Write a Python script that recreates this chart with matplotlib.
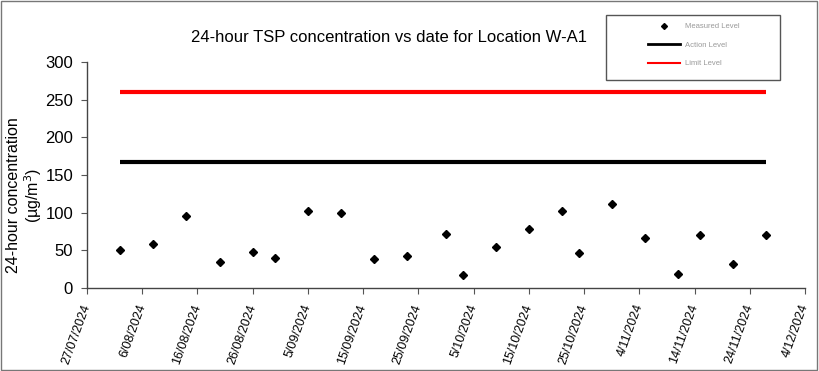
import datetime as dt

import matplotlib

matplotlib.use("Agg")
import matplotlib.dates as mdates
import matplotlib.pyplot as plt
from matplotlib.lines import Line2D
from matplotlib.patches import Rectangle
from matplotlib.ticker import FuncFormatter

plt.rcParams["font.family"] = ["Liberation Sans", "DejaVu Sans"]

# ---------------------------------------------------------------------------
# Data
# ---------------------------------------------------------------------------

SAMPLE_DATES = [
    "2024-08-02", "2024-08-08", "2024-08-14", "2024-08-20", "2024-08-26",
    "2024-08-30", "2024-09-05", "2024-09-11", "2024-09-17", "2024-09-23",
    "2024-09-30", "2024-10-03", "2024-10-09", "2024-10-15", "2024-10-21",
    "2024-10-24", "2024-10-30", "2024-11-05", "2024-11-11", "2024-11-15",
    "2024-11-21", "2024-11-27",
]
MEASURED = [51, 58, 95, 35, 48, 40, 102, 100, 39, 42, 72,
            17, 54, 78, 102, 47, 111, 67, 19, 70, 32, 70]
ACTION_LEVEL = 167
LIMIT_LEVEL = 260

X_START = "2024-07-27"
X_END = "2024-12-04"
TICK_STEP_DAYS = 10

TITLE = "24-hour TSP concentration vs date for Location W-A1"
YLABEL = "24-hour concentration\n(µg/m$^3$)"
LEGEND_LABELS = ["Measured Level", "Action Level", "Limit Level"]


def to_date(s):
    return dt.datetime.strptime(s, "%Y-%m-%d")


def fmt_date(v, _pos):
    t = mdates.num2date(v)
    return f"{t.day}/{t.month:02d}/{t.year}"


dates = [to_date(s) for s in SAMPLE_DATES]
x0, x1 = to_date(X_START), to_date(X_END)

W, H = 819, 371
fig = plt.figure(figsize=(W / 100, H / 100), dpi=100)
ax = fig.add_axes([87 / W, 1 - 288 / H, (805 - 87) / W, (288 - 62) / H])

ax.plot([dates[0], dates[-1]], [LIMIT_LEVEL] * 2, color="#ff0000", lw=3,
        solid_capstyle="butt", zorder=2)
ax.plot([dates[0], dates[-1]], [ACTION_LEVEL] * 2, color="black", lw=3,
        solid_capstyle="butt", zorder=2)
ax.plot(dates, MEASURED, ls="none", marker="D", ms=4.5, color="black", zorder=3)

ax.set_xlim(x0, x1)
ax.set_ylim(0, 300)
ax.set_yticks(range(0, 301, 50))

ticks = []
d = x0
while d <= x1:
    ticks.append(d)
    d += dt.timedelta(days=TICK_STEP_DAYS)
ax.set_xticks(ticks)
ax.xaxis.set_major_formatter(FuncFormatter(fmt_date))
for lab in ax.get_xticklabels():
    lab.set_rotation(70)
    lab.set_ha("right")
    lab.set_va("center")
    lab.set_rotation_mode("anchor")
    lab.set_fontsize(9)

ax.tick_params(axis="y", labelsize=12, length=4, color="#555555", pad=6)
ax.tick_params(axis="x", length=4, color="#555555", pad=8)
for side in ("top", "right"):
    ax.spines[side].set_visible(False)
for side in ("left", "bottom"):
    ax.spines[side].set_color("#444444")
    ax.spines[side].set_linewidth(1)

fig.text(389 / W, 1 - 37 / H, TITLE, ha="center", va="center", fontsize=12)
fig.text(25 / W, 1 - 195 / H, YLABEL, ha="center", va="center",
         rotation=90, fontsize=11.5, multialignment="center", linespacing=1.1)

# legend box sits above the plot, entries centred inside it
fig.patches.append(Rectangle((606 / W, 1 - 80 / H), (780 - 606) / W, 65 / H,
                             transform=fig.transFigure, fill=False,
                             edgecolor="#555555", lw=1))
handles = [
    Line2D([], [], ls="none", marker="D", ms=3, color="black"),
    Line2D([], [], color="black", lw=2),
    Line2D([], [], color="#ff0000", lw=1.5),
]
leg = fig.legend(
    handles, LEGEND_LABELS,
    loc="upper left",
    bbox_to_anchor=(648 / W, 1 - 23 / H),
    fontsize=5.5, labelcolor="#999999", frameon=False,
    handlelength=4.2, handletextpad=0.7, labelspacing=1.45,
    borderpad=0, borderaxespad=0,
)

fig.patches.append(Rectangle((0.001, 0.002), 0.997, 0.995, transform=fig.transFigure,
                             fill=False, edgecolor="#777777", lw=1))

fig.savefig("out.png", dpi=100)
